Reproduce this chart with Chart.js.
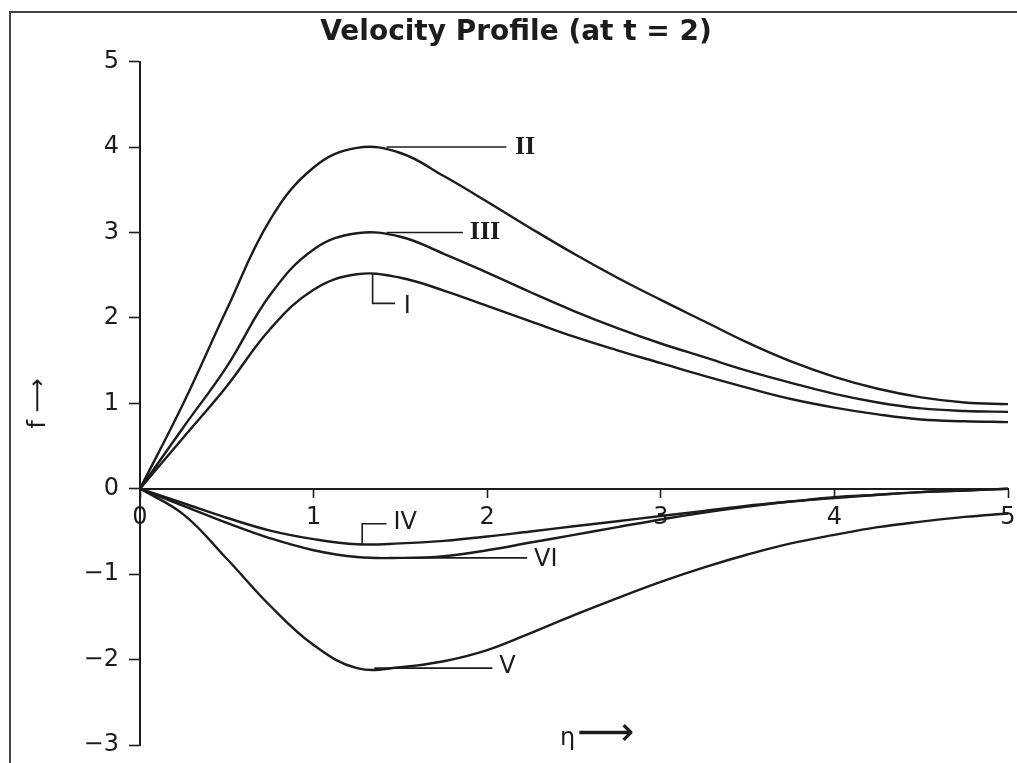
<!DOCTYPE html>
<html>
<head>
<meta charset="utf-8">
<script src="https://cdn.jsdelivr.net/npm/chart.js@4.4.1/dist/chart.umd.min.js"></script>
<style>
	html, body { margin: 0; padding: 0; background: #fff; }
	#wrap { position: relative; width: 1017px; height: 763px; }
	#frame { position: absolute; left: 9px; top: 11px; right: -4px; bottom: -4px; border-left: 2px solid #444; border-top: 2px solid #444; pointer-events: none; }
</style>
</head>
<body>
<div id="wrap">
	<canvas id="profile" width="1017" height="763"></canvas>
	<div id="frame"></div>
</div>
<script>
const eta = [0, 0.25, 0.5, 0.75, 1, 1.25, 1.5, 1.75, 2, 2.25, 2.5, 2.75, 3, 3.25, 3.5, 3.75, 4, 4.25, 4.5, 4.75, 5];
const curveI = [0, 0.6, 1.2, 1.87, 2.33, 2.51, 2.47, 2.32, 2.14, 1.96, 1.78, 1.62, 1.47, 1.32, 1.18, 1.05, 0.95, 0.87, 0.81, 0.79, 0.78];
const curveII = [0, 1.0, 2.1, 3.15, 3.76, 3.99, 3.93, 3.66, 3.36, 3.05, 2.75, 2.47, 2.21, 1.96, 1.71, 1.49, 1.31, 1.17, 1.07, 1.01, 0.99];
const curveIII = [0, 0.72, 1.43, 2.27, 2.8, 2.99, 2.95, 2.75, 2.53, 2.3, 2.08, 1.88, 1.7, 1.54, 1.38, 1.24, 1.11, 1.01, 0.94, 0.91, 0.9];
const curveIV = [0, -0.17, -0.34, -0.49, -0.59, -0.65, -0.64, -0.61, -0.56, -0.5, -0.44, -0.38, -0.32, -0.26, -0.2, -0.15, -0.1, -0.07, -0.04, -0.02, 0];
const curveV = [0, -0.3, -0.82, -1.37, -1.83, -2.1, -2.09, -2.02, -1.89, -1.69, -1.48, -1.28, -1.09, -0.92, -0.77, -0.64, -0.54, -0.45, -0.385, -0.33, -0.29];
const curveVI = [0, -0.2, -0.4, -0.58, -0.72, -0.8, -0.81, -0.79, -0.72, -0.63, -0.54, -0.45, -0.36, -0.28, -0.21, -0.15, -0.11, -0.07, -0.04, -0.02, 0];
const yTicks = [-3, -2, -1, 0, 1, 2, 3, 4, 5];
const xTicks = [0, 1, 2, 3, 4, 5];

const seriesNames = ['I', 'II', 'III', 'IV', 'V', 'VI'];
const seriesValues = [curveI, curveII, curveIII, curveIV, curveV, curveVI];

// leader lines + roman numeral tags, in data units
const tags = [
	{ text: 'II', path: [[1.42, 4.0], [2.11, 4.0]], at: [2.16, 4.0], serif: true },
	{ text: 'III', path: [[1.42, 3.0], [1.86, 3.0]], at: [1.9, 3.0], serif: true },
	{ text: 'I', path: [[1.34, 2.51], [1.34, 2.17], [1.47, 2.17]], at: [1.52, 2.13] },
	{ text: 'IV', path: [[1.28, -0.65], [1.28, -0.41], [1.42, -0.41]], at: [1.46, -0.4] },
	{ text: 'VI', path: [[1.6, -0.81], [2.23, -0.81]], at: [2.27, -0.83] },
	{ text: 'V', path: [[1.35, -2.1], [2.03, -2.1]], at: [2.07, -2.09] }
];
const etaLabel = { text: 'η', arrow: '⟶', at: [2.42, -2.93] };

const ink = '#1c1c1c';

const tagPlugin = {
	id: 'tags',
	afterDatasetsDraw(chart) {
		const ctx = chart.ctx;
		const xs = chart.scales.x;
		const ys = chart.scales.y;
		ctx.save();
		ctx.strokeStyle = ink;
		ctx.fillStyle = ink;
		ctx.lineWidth = 1.6;
		ctx.textAlign = 'left';
		ctx.textBaseline = 'middle';
		tags.forEach((t) => {
			ctx.beginPath();
			t.path.forEach((p, i) => {
				const px = xs.getPixelForValue(p[0]);
				const py = ys.getPixelForValue(p[1]);
				if (i === 0) ctx.moveTo(px, py);
				else ctx.lineTo(px, py);
			});
			ctx.stroke();
			ctx.font = t.serif ? 'bold 26px "Liberation Serif"' : '24px "DejaVu Sans"';
			ctx.fillText(t.text, xs.getPixelForValue(t.at[0]), ys.getPixelForValue(t.at[1]));
		});
		const ex = xs.getPixelForValue(etaLabel.at[0]);
		const ey = ys.getPixelForValue(etaLabel.at[1]);
		ctx.font = '24px "DejaVu Sans"';
		ctx.fillText(etaLabel.text, ex, ey);
		const w = ctx.measureText(etaLabel.text).width;
		ctx.font = '40px "DejaVu Sans"';
		ctx.fillText(etaLabel.arrow, ex + w + 2, ey - 4);
		ctx.restore();
	}
};

const datasets = seriesNames.map((name, k) => ({
	label: name,
	data: eta.map((x, i) => ({ x: x, y: seriesValues[k][i] })),
	borderColor: ink,
	borderWidth: 2.4,
	pointRadius: 0,
	fill: false,
	tension: 0.4
}));

new Chart(document.getElementById('profile'), {
	type: 'line',
	data: { datasets: datasets },
	plugins: [tagPlugin],
	options: {
		responsive: false,
		animation: false,
		layout: { padding: { left: 24, right: 9, top: 0, bottom: 18 } },
		plugins: {
			legend: { display: false },
			tooltip: { enabled: false },
			title: {
				display: true,
				text: 'Velocity Profile (at t = 2)',
				color: ink,
				font: { family: 'DejaVu Sans', size: 28, weight: 'bold' },
				padding: { top: 16, bottom: 12 }
			}
		},
		scales: {
			x: {
				type: 'linear',
				min: 0,
				max: 5,
				position: { y: 0 },
				afterBuildTicks: (scale) => { scale.ticks = xTicks.map((v) => ({ value: v })); },
				afterFit: (scale) => { scale.paddingLeft = 0; scale.paddingRight = 0; },
				ticks: { color: ink, font: { family: 'DejaVu Sans', size: 24 }, padding: 7 },
				grid: { drawOnChartArea: false, drawTicks: true, tickLength: 8, tickColor: ink, tickWidth: 1.6 },
				border: { display: true, color: ink, width: 2 }
			},
			y: {
				type: 'linear',
				min: -3,
				max: 5,
				position: 'left',
				afterBuildTicks: (scale) => { scale.ticks = yTicks.map((v) => ({ value: v })); },
				afterFit: (scale) => {
					scale.width = 116;
					scale.paddingTop = 0;
					scale.paddingBottom = 0;
				},
				ticks: {
					color: ink,
					font: { family: 'DejaVu Sans', size: 24 },
					padding: 10,
					callback: (v) => String(v).replace('-', '\u2212')
				},
				grid: { drawOnChartArea: false, drawTicks: true, tickLength: 11, tickColor: ink, tickWidth: 1.6 },
				border: { display: true, color: ink, width: 2 },
				title: {
					display: true,
					text: 'f ⟶',
					color: ink,
					font: { family: 'DejaVu Sans', size: 24 },
					padding: { top: 0, bottom: 0 }
				}
			}
		}
	}
});
</script>
</body>
</html>
